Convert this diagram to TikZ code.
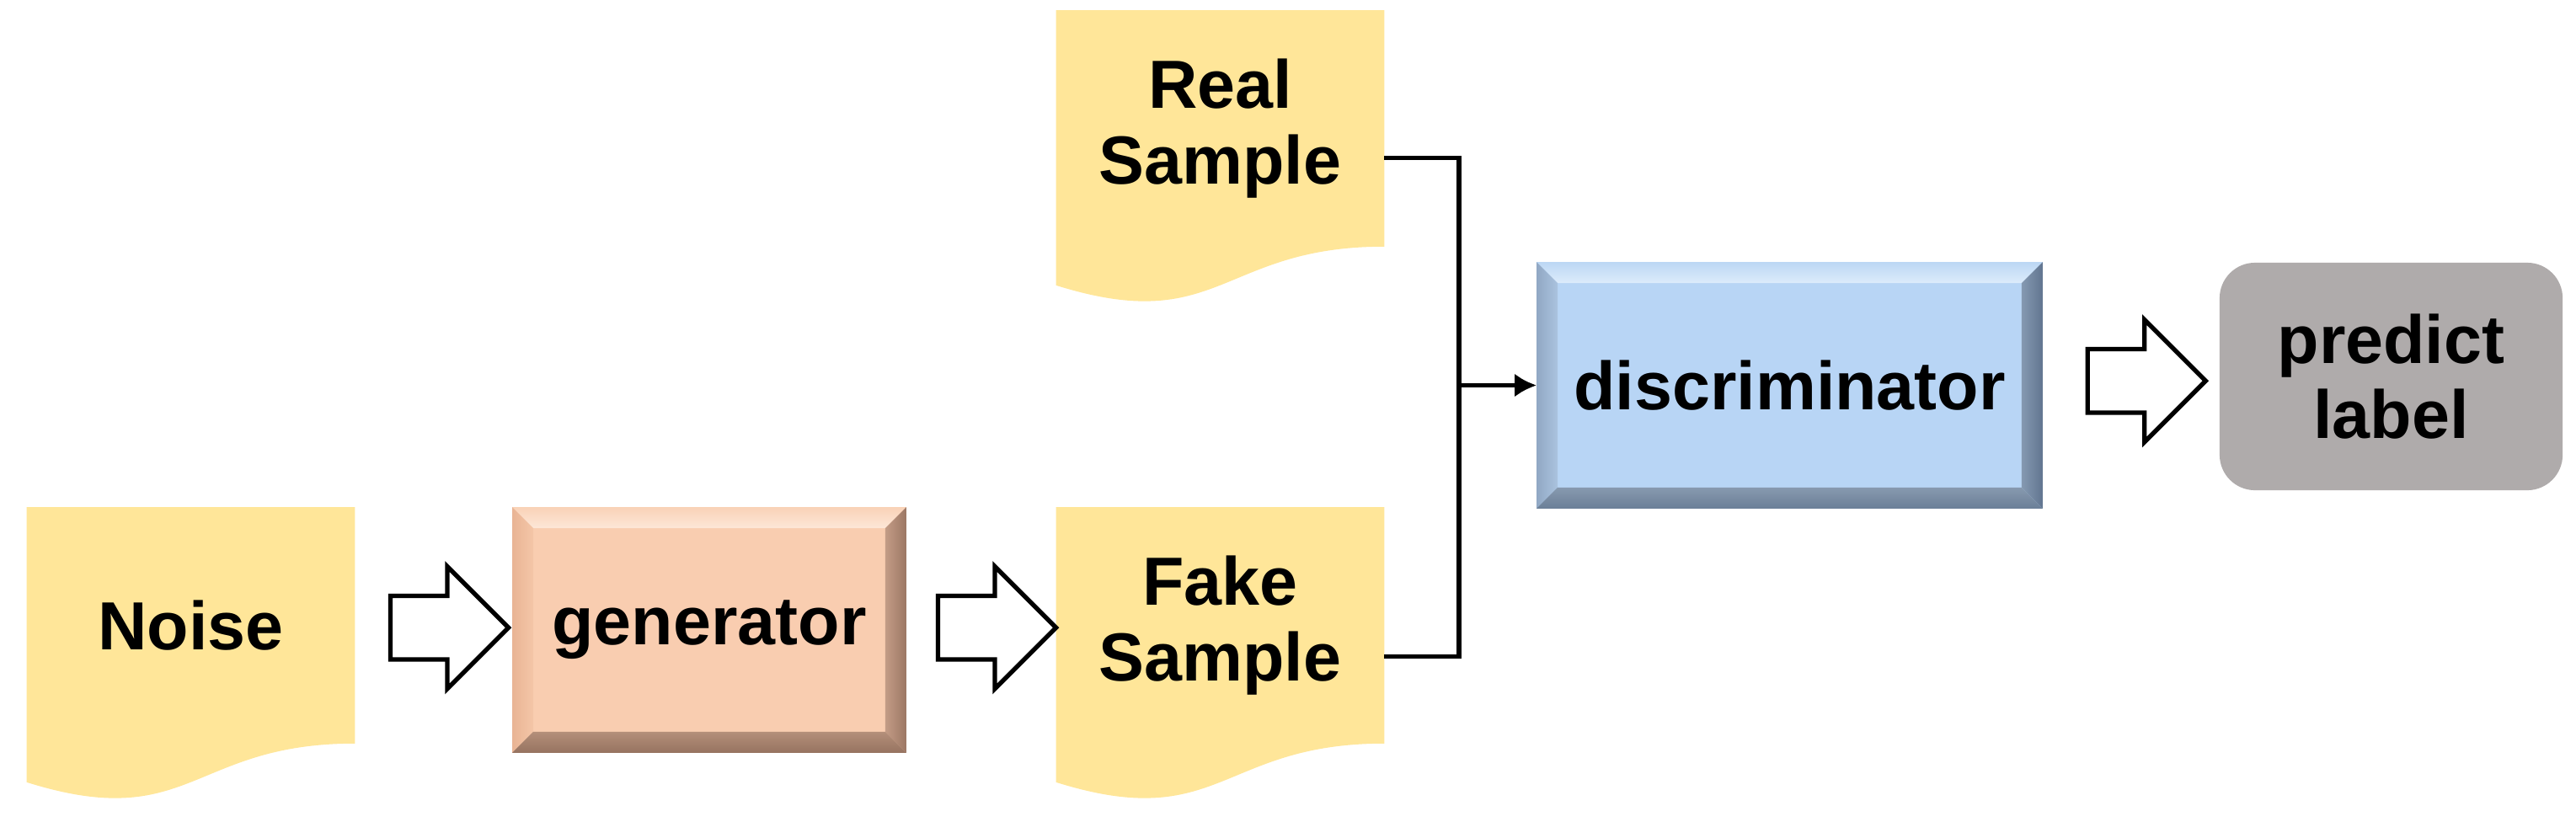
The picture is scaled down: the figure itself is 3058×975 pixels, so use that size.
\documentclass[tikz,border=0pt]{standalone}
\usepackage{fontspec}
\setmainfont{Liberation Sans}
\usepackage{tikz}
\usetikzlibrary{shapes.arrows, arrows.meta, backgrounds, calc}

\definecolor{docyellow}{HTML}{FFE699}
\definecolor{predgray}{HTML}{AFABAB}
% bevel colours, outer edge (a) and inner edge (b)
\definecolor{genbase}{HTML}{F9CDB0}
\definecolor{gentopa}{HTML}{F9D2B7}
\definecolor{gentopb}{HTML}{FDE7D8}
\definecolor{genlefta}{HTML}{E9B494}
\definecolor{genleftb}{HTML}{F4C6A8}
\definecolor{genrighta}{HTML}{9C7764}
\definecolor{genrightb}{HTML}{C39C86}
\definecolor{genbottoma}{HTML}{967360}
\definecolor{genbottomb}{HTML}{B48F7A}
\definecolor{discbase}{HTML}{B8D5F5}
\definecolor{disctopa}{HTML}{BCD7F4}
\definecolor{disctopb}{HTML}{DDECFB}
\definecolor{disclefta}{HTML}{91A8C4}
\definecolor{discleftb}{HTML}{AAC3DF}
\definecolor{discrighta}{HTML}{617590}
\definecolor{discrightb}{HTML}{8599B1}
\definecolor{discbottoma}{HTML}{6B7F97}
\definecolor{discbottomb}{HTML}{8799AF}

\newcommand{\boxfont}{\fontsize{23}{25.5}\selectfont\bfseries}
\newcommand{\bw}{0.25cm}

% document shape with a wavy bottom edge, drawn behind a named node
\newcommand{\docshape}[1]{%
  \fill[docyellow] (#1.north west) -- (#1.north east) -- (#1.south east)
    .. controls (#1.south) and ([yshift=-1.07cm]#1.south) .. ([yshift=-0.46cm]#1.south west) -- cycle;}

% bevelled box behind node #1, colours named after the node
\newcommand{\bevelfill}[1]{%
  \fill[#1base] (#1.south west) rectangle (#1.north east);
  \shade[top color=#1topa, bottom color=#1topb] (#1.north west) -- (#1.north east) -- ([shift={(-\bw,-\bw)}]#1.north east) -- ([shift={(\bw,-\bw)}]#1.north west) -- cycle;
  \shade[left color=#1lefta, right color=#1leftb] (#1.north west) -- ([shift={(\bw,-\bw)}]#1.north west) -- ([shift={(\bw,\bw)}]#1.south west) -- (#1.south west) -- cycle;
  \shade[left color=#1rightb, right color=#1righta] (#1.north east) -- ([shift={(-\bw,-\bw)}]#1.north east) -- ([shift={(-\bw,\bw)}]#1.south east) -- (#1.south east) -- cycle;
  \shade[top color=#1bottomb, bottom color=#1bottoma] (#1.south west) -- ([shift={(\bw,\bw)}]#1.south west) -- ([shift={(-\bw,\bw)}]#1.south east) -- (#1.south east) -- cycle;}

\tikzset{
  docnode/.style={minimum width=3.88cm, minimum height=2.79cm, inner sep=0pt, align=center, font=\boxfont},
  bevelnode/.style={inner sep=0pt, align=center, font=\boxfont},
  prednode/.style={fill=predgray, rounded corners=0.42cm, minimum width=4.07cm, minimum height=2.70cm, inner sep=0pt, align=center, font=\boxfont},
  fatarrow/.style={single arrow, draw=black, fill=white, line width=1.5pt, inner sep=0.35cm, single arrow head extend=0.35cm, minimum height=1.4cm},
  link/.style={line width=1.6pt}
}

\begin{document}
\begin{tikzpicture}[x=0.01cm, y=-0.01cm]
\useasboundingbox (0,0) rectangle (3058,975);

\node[docnode] (noise) at (226.5,742.5) {Noise};
\node[bevelnode, minimum width=4.66cm, minimum height=2.90cm] (gen) at (842,748) {generator};
\node[docnode] (real) at (1448.5,152.5) {Real\\Sample};
\node[docnode] (fake) at (1448.5,742.5) {Fake\\Sample};
\node[bevelnode, minimum width=5.99cm, minimum height=2.91cm] (disc) at (2124.5,457.5) {discriminator};
\node[prednode] (pred) at (2838.5,447) {predict\\label};

\begin{scope}[on background layer]
  \docshape{noise}
  \docshape{real}
  \docshape{fake}
  \bevelfill{gen}
  \bevelfill{disc}
\end{scope}

% block arrows between the stages
\node[fatarrow] (a1) at ($(noise.east)!0.5!(gen.west)$) {};
\node[fatarrow] (a2) at ($(gen.east)!0.5!(fake.west)$) {};
\node[fatarrow] (a3) at ($(disc.east)!0.5!(pred.west)$) {};

\coordinate (merge) at ([xshift=-0.92cm]disc.west);
\draw[link] ([yshift=-0.35cm]real.east) -| (merge) |- ([yshift=-0.37cm]fake.east);
\draw[link, -{Latex[length=0.26cm, width=0.28cm]}] (merge) -- (disc.west);
\end{tikzpicture}
\end{document}
